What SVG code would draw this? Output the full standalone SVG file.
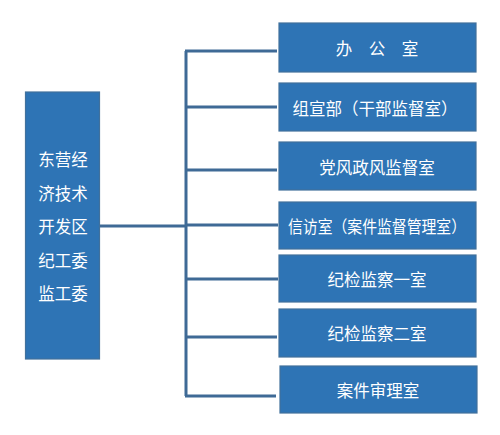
<svg xmlns="http://www.w3.org/2000/svg" width="500" height="435" viewBox="0 0 500 435">
<style>
.box{fill:#2E74B5;stroke:#41719C;stroke-width:1.2}
.t{fill:#fff;font-family:"Noto Sans CJK SC","Noto Sans",sans-serif;font-size:16.5px;text-anchor:middle;dominant-baseline:central}
.c{stroke:#3F6A96;stroke-width:3;fill:none}
</style>
<rect width="500" height="435" fill="#fff"/>
<g id="connectors">
<line class="c" x1="100" y1="226" x2="186" y2="226"/>
<line class="c" x1="186" y1="51" x2="186" y2="396"/>
<line class="c" x1="185" y1="51" x2="277" y2="51"/>
<line class="c" x1="185" y1="107" x2="277" y2="107"/>
<line class="c" x1="185" y1="170" x2="277" y2="170"/>
<line class="c" x1="185" y1="225" x2="278" y2="225"/>
<line class="c" x1="185" y1="279" x2="278" y2="279"/>
<line class="c" x1="185" y1="337" x2="277" y2="337"/>
<line class="c" x1="185" y1="396" x2="276" y2="396"/>
</g>
<g id="root">
<rect class="box" x="25.5" y="92" width="74" height="267"/>
<text class="t" x="63" y="159">东营经</text>
<text class="t" x="63" y="193">济技术</text>
<text class="t" x="63" y="226">开发区</text>
<text class="t" x="63" y="260">纪工委</text>
<text class="t" x="63" y="293">监工委</text>
</g>
<g id="n1"><rect class="box" x="279" y="23" width="197" height="49"/><text class="t" x="377" y="48">办　公　室</text></g>
<g id="n2"><rect class="box" x="279" y="83" width="197" height="48"/><text class="t" x="375" y="108">组宣部（干部监督室）</text></g>
<g id="n3"><rect class="box" x="279" y="142" width="197" height="48"/><text class="t" x="377" y="167">党风政风监督室</text></g>
<g id="n4"><rect class="box" x="279" y="202" width="197" height="47"/><text class="t" x="377" y="226" textLength="178" lengthAdjust="spacingAndGlyphs">信访室（案件监督管理室）</text></g>
<g id="n5"><rect class="box" x="279" y="255" width="197" height="47"/><text class="t" x="377" y="279">纪检监察一室</text></g>
<g id="n6"><rect class="box" x="279" y="309" width="197" height="48"/><text class="t" x="377" y="333">纪检监察二室</text></g>
<g id="n7"><rect class="box" x="280" y="366" width="197" height="47"/><text class="t" x="378" y="390">案件审理室</text></g>
</svg>
